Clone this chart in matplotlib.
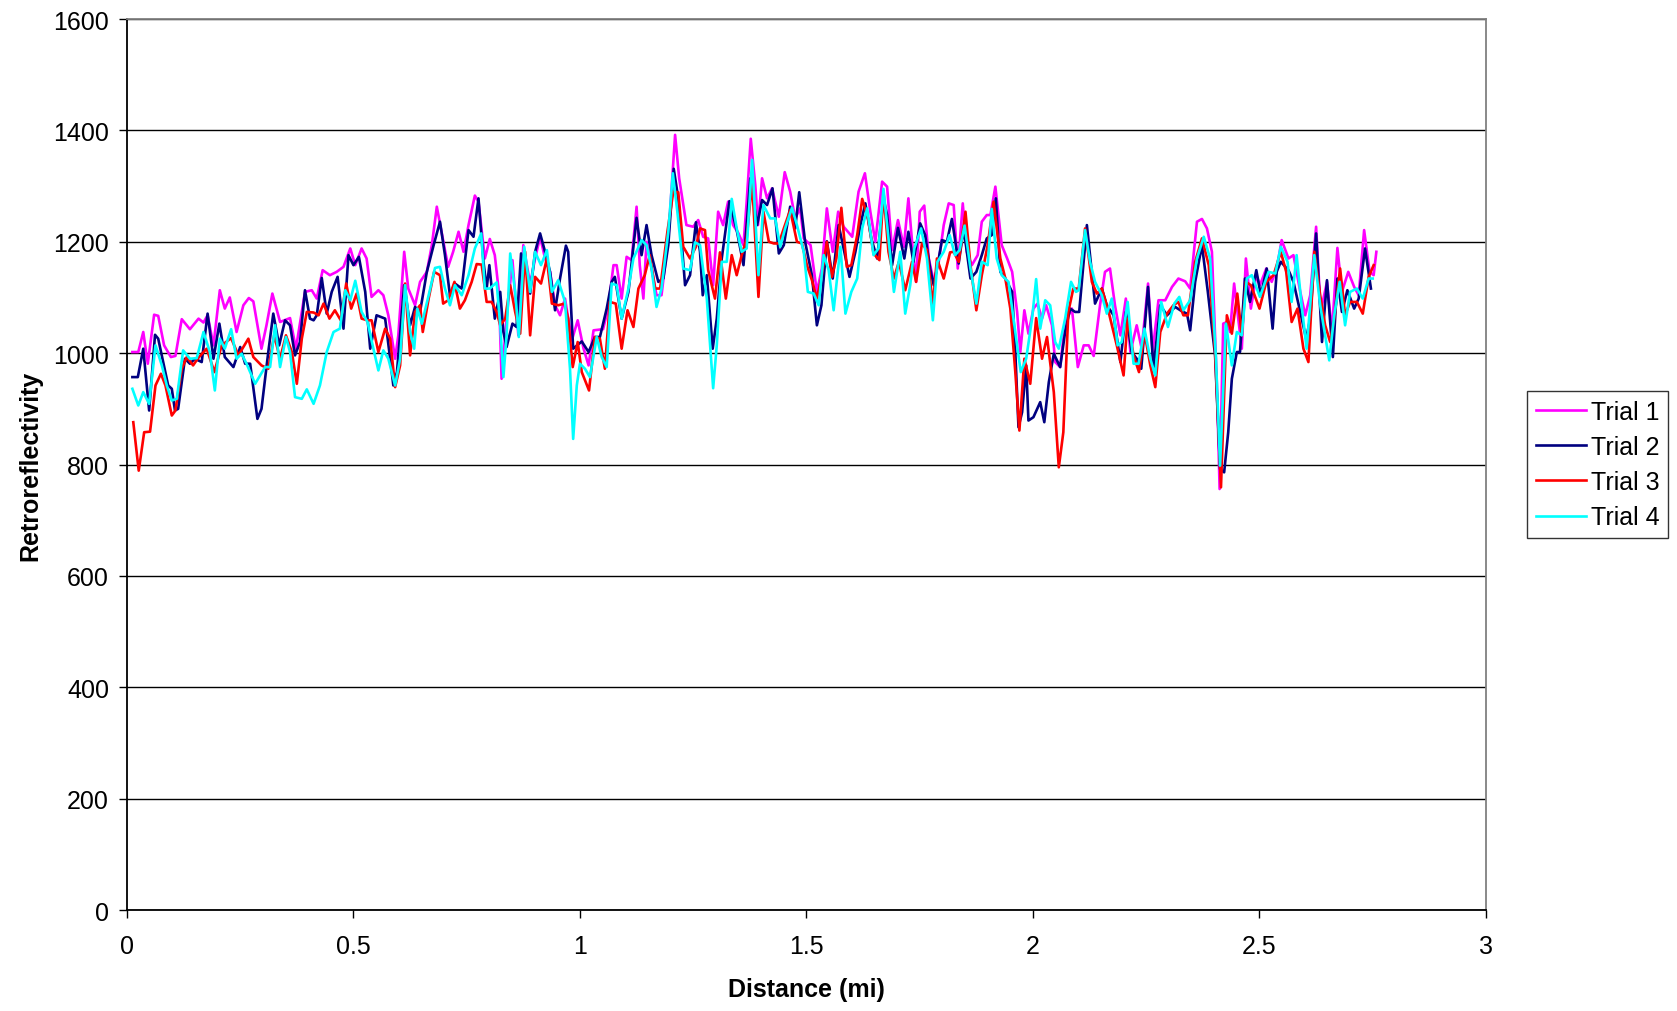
import matplotlib.pyplot as plt
import numpy as np

plt.rcParams['font.family'] = ['Liberation Sans', 'DejaVu Sans']

# Retroreflectivity readings along the route, one (distance, value) trace per trial
trial1_x = [0.012, 0.025, 0.036, 0.046, 0.060, 0.069, 0.082, 0.097, 0.107, 0.121, 0.139, 0.158, 0.169, 0.178,
            0.191, 0.205, 0.216, 0.227, 0.242, 0.257, 0.269, 0.279, 0.297, 0.308, 0.321, 0.338, 0.360, 0.373,
            0.393, 0.408, 0.419, 0.432, 0.448, 0.463, 0.478, 0.493, 0.504, 0.518, 0.529, 0.540, 0.555, 0.566,
            0.577, 0.592, 0.599, 0.612, 0.621, 0.636, 0.647, 0.662, 0.673, 0.684, 0.693, 0.709, 0.720, 0.732,
            0.743, 0.754, 0.768, 0.776, 0.790, 0.801, 0.812, 0.821, 0.827, 0.838, 0.851, 0.864, 0.875, 0.890,
            0.901, 0.912, 0.923, 0.934, 0.945, 0.956, 0.967, 0.982, 0.995, 1.008, 1.019, 1.030, 1.051, 1.062,
            1.074, 1.081, 1.092, 1.103, 1.114, 1.125, 1.132, 1.140, 1.147, 1.158, 1.169, 1.180, 1.195, 1.210,
            1.219, 1.235, 1.250, 1.261, 1.272, 1.283, 1.294, 1.305, 1.316, 1.327, 1.338, 1.350, 1.361, 1.368,
            1.377, 1.387, 1.393, 1.402, 1.413, 1.424, 1.439, 1.452, 1.464, 1.475, 1.486, 1.494, 1.509, 1.523,
            1.534, 1.545, 1.558, 1.570, 1.582, 1.601, 1.615, 1.629, 1.641, 1.652, 1.667, 1.678, 1.689, 1.702,
            1.715, 1.725, 1.735, 1.742, 1.750, 1.760, 1.770, 1.781, 1.792, 1.803, 1.814, 1.825, 1.834, 1.845,
            1.854, 1.865, 1.878, 1.887, 1.898, 1.906, 1.917, 1.931, 1.943, 1.954, 1.965, 1.972, 1.981, 1.990,
            2.001, 2.010, 2.020, 2.029, 2.042, 2.049, 2.060, 2.071, 2.086, 2.099, 2.112, 2.123, 2.134, 2.148,
            2.159, 2.170, 2.181, 2.193, 2.205, 2.215, 2.229, 2.240, 2.254, 2.264, 2.277, 2.292, 2.307, 2.321,
            2.336, 2.347, 2.362, 2.373, 2.384, 2.395, 2.406, 2.412, 2.420, 2.429, 2.435, 2.444, 2.454, 2.461,
            2.470, 2.481, 2.493, 2.501, 2.515, 2.527, 2.538, 2.549, 2.564, 2.575, 2.590, 2.601, 2.612, 2.625,
            2.635, 2.649, 2.660, 2.672, 2.682, 2.696, 2.709, 2.719, 2.731, 2.743, 2.752, 2.758]
trial1_y = [1002, 1002, 1038, 981, 1069, 1067, 1014, 993, 995, 1061, 1043, 1062, 1055, 1068,
            1014, 1113, 1080, 1100, 1038, 1086, 1099, 1093, 1008, 1050, 1107, 1056, 1063, 1008,
            1110, 1113, 1098, 1149, 1140, 1146, 1155, 1188, 1158, 1188, 1170, 1101, 1113, 1104,
            1068, 990, 1032, 1182, 1116, 1086, 1128, 1146, 1194, 1263, 1224, 1155, 1182, 1218,
            1182, 1230, 1283, 1272, 1170, 1205, 1176, 1110, 954, 1062, 1167, 1032, 1194, 1125,
            1170, 1209, 1170, 1146, 1086, 1068, 1098, 1023, 1059, 1008, 978, 1041, 1043, 1080,
            1158, 1158, 1098, 1173, 1167, 1263, 1158, 1098, 1200, 1152, 1104, 1104, 1206, 1392,
            1314, 1230, 1227, 1239, 1209, 1206, 1122, 1254, 1230, 1272, 1230, 1215, 1194, 1272,
            1385, 1302, 1230, 1314, 1278, 1296, 1245, 1325, 1290, 1242, 1260, 1206, 1194, 1110,
            1152, 1260, 1182, 1254, 1227, 1209, 1290, 1323, 1254, 1200, 1308, 1299, 1185, 1239,
            1191, 1278, 1182, 1128, 1254, 1265, 1170, 1128, 1164, 1230, 1269, 1266, 1152, 1269,
            1182, 1158, 1176, 1236, 1248, 1248, 1299, 1194, 1170, 1146, 1074, 1002, 1077, 1035,
            1080, 1089, 1062, 1086, 1050, 984, 975, 1056, 1080, 975, 1014, 1014, 995, 1086,
            1146, 1152, 1086, 1032, 1098, 1002, 1050, 1008, 1125, 1002, 1095, 1095, 1119, 1134,
            1129, 1116, 1236, 1241, 1224, 1182, 942, 756, 1053, 1056, 1038, 1125, 1056, 1008,
            1170, 1080, 1140, 1122, 1152, 1128, 1152, 1203, 1170, 1176, 1110, 1068, 1104, 1227,
            1075, 1128, 1038, 1189, 1110, 1146, 1119, 1104, 1221, 1146, 1140, 1182]

trial2_x = [0.012, 0.024, 0.036, 0.049, 0.062, 0.069, 0.091, 0.099, 0.106, 0.113, 0.128, 0.139, 0.150, 0.165,
            0.178, 0.191, 0.204, 0.216, 0.235, 0.250, 0.261, 0.272, 0.288, 0.297, 0.312, 0.323, 0.336, 0.349,
            0.360, 0.371, 0.382, 0.393, 0.404, 0.412, 0.419, 0.430, 0.441, 0.452, 0.465, 0.478, 0.489, 0.500,
            0.512, 0.526, 0.537, 0.551, 0.570, 0.581, 0.588, 0.596, 0.612, 0.625, 0.636, 0.647, 0.662, 0.677,
            0.691, 0.702, 0.713, 0.724, 0.739, 0.754, 0.765, 0.776, 0.787, 0.794, 0.800, 0.812, 0.824, 0.831,
            0.838, 0.851, 0.860, 0.870, 0.882, 0.890, 0.901, 0.912, 0.923, 0.934, 0.945, 0.956, 0.969, 0.974,
            0.985, 1.004, 1.019, 1.033, 1.044, 1.059, 1.070, 1.077, 1.092, 1.107, 1.125, 1.136, 1.147, 1.158,
            1.173, 1.184, 1.195, 1.207, 1.217, 1.232, 1.243, 1.256, 1.265, 1.271, 1.280, 1.293, 1.302, 1.313,
            1.330, 1.346, 1.361, 1.376, 1.391, 1.402, 1.413, 1.425, 1.439, 1.450, 1.464, 1.475, 1.484, 1.497,
            1.512, 1.523, 1.533, 1.545, 1.558, 1.571, 1.582, 1.595, 1.608, 1.619, 1.630, 1.643, 1.656, 1.670,
            1.678, 1.689, 1.702, 1.716, 1.725, 1.736, 1.751, 1.762, 1.773, 1.781, 1.792, 1.799, 1.810, 1.821,
            1.836, 1.847, 1.854, 1.862, 1.875, 1.887, 1.898, 1.909, 1.918, 1.928, 1.939, 1.954, 1.961, 1.968,
            1.976, 1.985, 1.990, 2.001, 2.016, 2.025, 2.035, 2.046, 2.060, 2.071, 2.082, 2.093, 2.102, 2.119,
            2.130, 2.137, 2.152, 2.163, 2.178, 2.193, 2.205, 2.218, 2.229, 2.239, 2.254, 2.266, 2.281, 2.296,
            2.314, 2.329, 2.340, 2.347, 2.358, 2.373, 2.386, 2.402, 2.413, 2.422, 2.431, 2.439, 2.450, 2.457,
            2.468, 2.479, 2.493, 2.503, 2.516, 2.529, 2.538, 2.547, 2.564, 2.575, 2.590, 2.603, 2.612, 2.625,
            2.638, 2.649, 2.662, 2.672, 2.682, 2.694, 2.709, 2.719, 2.733, 2.746]
trial2_y = [957, 957, 1008, 897, 1033, 1026, 942, 936, 897, 900, 990, 981, 990, 984,
            1071, 990, 1053, 993, 975, 1011, 981, 981, 882, 900, 1002, 1071, 1014, 1059,
            1050, 996, 1020, 1113, 1062, 1059, 1068, 1135, 1071, 1110, 1137, 1044, 1176, 1158,
            1173, 1110, 1008, 1068, 1062, 990, 942, 966, 1122, 1050, 1083, 1074, 1146, 1194,
            1236, 1176, 1104, 1125, 1116, 1221, 1209, 1278, 1164, 1116, 1158, 1062, 1110, 1038,
            1011, 1053, 1047, 1179, 1155, 1107, 1182, 1215, 1182, 1146, 1077, 1134, 1193, 1182,
            1008, 1021, 1002, 1029, 1029, 1080, 1128, 1137, 1062, 1110, 1243, 1176, 1230, 1176,
            1128, 1134, 1194, 1331, 1278, 1122, 1140, 1235, 1182, 1104, 1140, 1008, 1062, 1170,
            1273, 1221, 1158, 1314, 1230, 1275, 1266, 1296, 1179, 1194, 1263, 1224, 1289, 1200,
            1140, 1050, 1086, 1201, 1134, 1230, 1188, 1137, 1182, 1230, 1269, 1206, 1170, 1278,
            1248, 1158, 1225, 1170, 1218, 1164, 1233, 1212, 1152, 1122, 1170, 1203, 1200, 1241,
            1161, 1224, 1182, 1134, 1146, 1176, 1206, 1212, 1278, 1146, 1134, 1110, 1002, 867,
            894, 978, 879, 885, 912, 876, 948, 999, 975, 1038, 1080, 1074, 1074, 1230,
            1143, 1089, 1116, 1086, 1068, 984, 1074, 1002, 990, 972, 1119, 972, 1086, 1068,
            1083, 1075, 1071, 1041, 1128, 1194, 1110, 996, 792, 786, 858, 954, 1002, 1002,
            1134, 1092, 1149, 1104, 1152, 1044, 1146, 1164, 1149, 1128, 1074, 1026, 1062, 1215,
            1020, 1131, 993, 1134, 1074, 1113, 1080, 1098, 1188, 1116]

trial3_x = [0.014, 0.026, 0.038, 0.051, 0.063, 0.075, 0.085, 0.099, 0.107, 0.121, 0.132, 0.146, 0.157, 0.176,
            0.193, 0.209, 0.230, 0.246, 0.268, 0.279, 0.297, 0.312, 0.325, 0.338, 0.351, 0.364, 0.375, 0.386,
            0.397, 0.412, 0.423, 0.434, 0.447, 0.459, 0.472, 0.484, 0.495, 0.507, 0.518, 0.531, 0.540, 0.555,
            0.570, 0.581, 0.592, 0.603, 0.614, 0.625, 0.636, 0.647, 0.653, 0.666, 0.678, 0.691, 0.698, 0.709,
            0.723, 0.735, 0.746, 0.761, 0.772, 0.783, 0.794, 0.805, 0.816, 0.824, 0.835, 0.846, 0.857, 0.868,
            0.879, 0.890, 0.901, 0.914, 0.927, 0.938, 0.952, 0.966, 0.974, 0.984, 0.995, 1.004, 1.020, 1.033,
            1.044, 1.055, 1.066, 1.079, 1.092, 1.105, 1.118, 1.129, 1.143, 1.154, 1.166, 1.177, 1.193, 1.206,
            1.217, 1.228, 1.243, 1.256, 1.265, 1.276, 1.283, 1.298, 1.309, 1.322, 1.335, 1.346, 1.357, 1.368,
            1.380, 1.394, 1.405, 1.417, 1.428, 1.439, 1.450, 1.464, 1.479, 1.490, 1.501, 1.512, 1.523, 1.534,
            1.545, 1.556, 1.566, 1.577, 1.589, 1.599, 1.612, 1.623, 1.636, 1.648, 1.661, 1.670, 1.681, 1.693,
            1.704, 1.718, 1.733, 1.742, 1.755, 1.766, 1.779, 1.788, 1.803, 1.817, 1.825, 1.836, 1.851, 1.862,
            1.875, 1.887, 1.900, 1.913, 1.928, 1.939, 1.950, 1.961, 1.970, 1.981, 1.994, 2.007, 2.020, 2.031,
            2.046, 2.057, 2.067, 2.078, 2.089, 2.101, 2.115, 2.130, 2.141, 2.152, 2.167, 2.185, 2.200, 2.209,
            2.222, 2.234, 2.246, 2.259, 2.270, 2.281, 2.296, 2.310, 2.321, 2.332, 2.342, 2.358, 2.373, 2.388,
            2.402, 2.415, 2.428, 2.439, 2.451, 2.461, 2.470, 2.481, 2.500, 2.515, 2.531, 2.547, 2.559, 2.571,
            2.584, 2.597, 2.608, 2.621, 2.634, 2.645, 2.656, 2.665, 2.678, 2.689, 2.700, 2.715, 2.728, 2.741,
            2.752]
trial3_y = [876, 789, 858, 859, 942, 963, 942, 888, 897, 972, 993, 978, 991, 1008,
            966, 1014, 1027, 996, 1026, 993, 978, 972, 1032, 990, 1032, 1002, 945, 1026,
            1074, 1073, 1068, 1089, 1062, 1077, 1059, 1125, 1080, 1107, 1062, 1059, 1059, 1002,
            1044, 1026, 939, 978, 1125, 996, 1074, 1086, 1038, 1098, 1146, 1140, 1089, 1095,
            1128, 1080, 1095, 1128, 1160, 1159, 1092, 1092, 1074, 1050, 1062, 1122, 1074, 1035,
            1182, 1032, 1137, 1125, 1170, 1089, 1086, 1089, 1062, 975, 1020, 966, 933, 1029,
            1026, 972, 1092, 1089, 1008, 1077, 1047, 1116, 1140, 1176, 1116, 1116, 1218, 1290,
            1289, 1191, 1170, 1191, 1224, 1221, 1149, 1098, 1181, 1098, 1176, 1140, 1176, 1206,
            1308, 1101, 1254, 1200, 1197, 1197, 1224, 1257, 1200, 1197, 1158, 1131, 1098, 1140,
            1200, 1137, 1170, 1261, 1155, 1158, 1212, 1277, 1242, 1179, 1167, 1290, 1182, 1134,
            1164, 1113, 1164, 1128, 1197, 1185, 1086, 1170, 1134, 1181, 1182, 1164, 1254, 1158,
            1077, 1140, 1194, 1272, 1170, 1134, 1080, 966, 861, 990, 945, 1063, 990, 1029,
            930, 795, 858, 1074, 1116, 1116, 1224, 1128, 1107, 1116, 1074, 1014, 960, 1062,
            996, 966, 1038, 978, 939, 1038, 1071, 1086, 1092, 1068, 1068, 1164, 1206, 1158,
            1002, 759, 1068, 1035, 1107, 1032, 1128, 1122, 1080, 1128, 1140, 1182, 1146, 1056,
            1080, 1008, 984, 1182, 1104, 1050, 1020, 1062, 1152, 1068, 1092, 1092, 1071, 1137,
            1158]

trial4_x = [0.012, 0.025, 0.036, 0.049, 0.063, 0.077, 0.088, 0.099, 0.110, 0.124, 0.139, 0.154, 0.169, 0.183,
            0.194, 0.205, 0.216, 0.230, 0.242, 0.253, 0.264, 0.283, 0.305, 0.316, 0.327, 0.338, 0.351, 0.360,
            0.371, 0.386, 0.397, 0.412, 0.426, 0.441, 0.456, 0.470, 0.482, 0.493, 0.504, 0.518, 0.531, 0.544,
            0.555, 0.566, 0.577, 0.592, 0.603, 0.614, 0.625, 0.634, 0.641, 0.651, 0.666, 0.680, 0.691, 0.702,
            0.713, 0.724, 0.739, 0.754, 0.768, 0.782, 0.790, 0.801, 0.816, 0.824, 0.831, 0.838, 0.846, 0.857,
            0.865, 0.877, 0.890, 0.901, 0.914, 0.927, 0.938, 0.952, 0.967, 0.978, 0.985, 0.993, 1.000, 1.011,
            1.022, 1.037, 1.048, 1.059, 1.070, 1.081, 1.092, 1.107, 1.118, 1.136, 1.147, 1.158, 1.169, 1.180,
            1.195, 1.205, 1.215, 1.228, 1.243, 1.254, 1.265, 1.280, 1.294, 1.302, 1.313, 1.324, 1.335, 1.346,
            1.357, 1.368, 1.380, 1.394, 1.405, 1.420, 1.431, 1.442, 1.453, 1.468, 1.479, 1.494, 1.503, 1.516,
            1.527, 1.538, 1.549, 1.560, 1.575, 1.586, 1.599, 1.612, 1.623, 1.634, 1.648, 1.659, 1.670, 1.681,
            1.693, 1.707, 1.718, 1.729, 1.738, 1.753, 1.766, 1.779, 1.789, 1.803, 1.816, 1.828, 1.838, 1.849,
            1.862, 1.875, 1.887, 1.900, 1.909, 1.920, 1.931, 1.946, 1.957, 1.973, 1.985, 1.998, 2.007, 2.016,
            2.027, 2.038, 2.049, 2.057, 2.071, 2.084, 2.095, 2.101, 2.115, 2.126, 2.137, 2.152, 2.163, 2.174,
            2.187, 2.196, 2.209, 2.222, 2.233, 2.246, 2.259, 2.270, 2.283, 2.298, 2.312, 2.323, 2.332, 2.347,
            2.362, 2.377, 2.391, 2.404, 2.413, 2.426, 2.439, 2.450, 2.461, 2.472, 2.483, 2.501, 2.520, 2.535,
            2.547, 2.562, 2.571, 2.582, 2.593, 2.604, 2.621, 2.634, 2.654, 2.665, 2.677, 2.689, 2.700, 2.715,
            2.728, 2.741, 2.750]
trial4_y = [936, 906, 930, 909, 1014, 978, 942, 915, 918, 1005, 990, 991, 1038, 1002,
            933, 1026, 1008, 1043, 990, 999, 981, 945, 975, 975, 1050, 975, 1029, 1002,
            921, 918, 935, 909, 942, 1002, 1038, 1044, 1113, 1095, 1130, 1074, 1056, 1008,
            969, 1005, 990, 942, 990, 1122, 1038, 1008, 1080, 1053, 1104, 1153, 1155, 1116,
            1086, 1122, 1104, 1140, 1188, 1215, 1116, 1116, 1127, 1050, 957, 1032, 1179, 1110,
            1029, 1191, 1110, 1182, 1158, 1185, 1110, 1131, 1092, 972, 846, 942, 981, 972,
            957, 1029, 993, 975, 1125, 1122, 1062, 1116, 1170, 1203, 1194, 1152, 1083, 1116,
            1218, 1323, 1254, 1152, 1149, 1199, 1194, 1098, 937, 1014, 1164, 1164, 1277, 1224,
            1182, 1188, 1347, 1140, 1266, 1242, 1242, 1191, 1224, 1261, 1230, 1182, 1110, 1107,
            1086, 1176, 1149, 1077, 1191, 1071, 1110, 1134, 1224, 1260, 1176, 1188, 1295, 1206,
            1110, 1182, 1071, 1122, 1188, 1224, 1170, 1059, 1164, 1182, 1212, 1176, 1185, 1229,
            1152, 1089, 1164, 1158, 1259, 1170, 1140, 1128, 1062, 966, 990, 1062, 1133, 1044,
            1095, 1086, 1020, 1008, 1062, 1128, 1110, 1113, 1221, 1164, 1128, 1104, 1071, 1098,
            1014, 1020, 1092, 981, 981, 1044, 990, 960, 1092, 1047, 1089, 1101, 1077, 1095,
            1170, 1209, 1170, 990, 798, 1053, 978, 1038, 1032, 1134, 1140, 1101, 1146, 1143,
            1191, 1164, 1092, 1176, 1086, 1008, 1176, 1086, 987, 1068, 1128, 1050, 1110, 1116,
            1098, 1134, 1134]

labels = ['Trial 1', 'Trial 2', 'Trial 3', 'Trial 4']
colors = ['#FF00FF', '#000080', '#FF0000', '#00FFFF']

fig = plt.figure(figsize=(16.77, 10.12), dpi=100)
ax = fig.add_axes([0.0757, 0.0998, 0.8104, 0.8804])

series = [(trial1_x, trial1_y), (trial2_x, trial2_y), (trial3_x, trial3_y), (trial4_x, trial4_y)]
for (xs, ys), lab, col in zip(series, labels, colors):
    ax.plot(xs, ys, color=col, lw=1.9, label=lab, solid_joinstyle='round')

ax.set_xlim(0, 3)
ax.set_ylim(0, 1600)
ax.set_xticks(np.arange(0, 3.01, 0.5))
ax.set_xticklabels(['0', '0.5', '1', '1.5', '2', '2.5', '3'])
ax.set_yticks(np.arange(0, 1601, 200))
ax.yaxis.grid(True, color='black', lw=1)
ax.set_axisbelow(True)
for s in ax.spines.values():
    s.set_color('#808080')
    s.set_linewidth(1.3)
ax.spines['left'].set_color('black')
ax.spines['bottom'].set_color('black')
ax.tick_params(direction='out', length=6, width=1, labelsize=18, pad=7)
ax.tick_params(axis='x', pad=11)

ax.set_xlabel('Distance (mi)', fontsize=18, fontweight='bold', labelpad=14)
ax.set_ylabel('Retroreflectivity', fontsize=18, fontweight='bold', labelpad=8)

leg = ax.legend(loc='center left', bbox_to_anchor=(1.03, 0.5), fontsize=18, frameon=True,
                fancybox=False, edgecolor='black', handlelength=2.0, handletextpad=0.2,
                borderpad=0.35, labelspacing=0.45, borderaxespad=0)
leg.get_frame().set_linewidth(1)

fig.savefig('out.png', dpi=100)
